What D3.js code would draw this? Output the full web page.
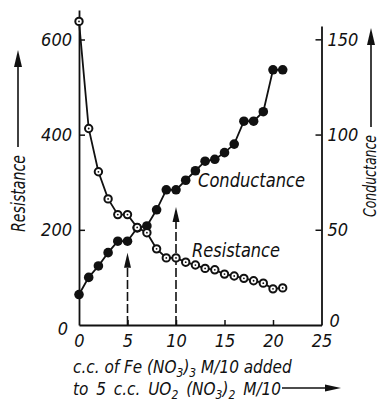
<!DOCTYPE html>
<html>
<head>
<meta charset="utf-8">
<script src="https://cdn.jsdelivr.net/npm/d3@7"></script>
<style>
  body { margin: 0; background: #fff; }
  text { font-family: "DejaVu Sans Condensed", "DejaVu Sans", sans-serif; font-style: italic; fill: #111; }
</style>
</head>
<body>
<div id="chart"></div>
<script>
let svgWidth = 380;
let svgHeight = 401;

// c.c. of Fe(NO3)3 added
let ccAdded = [0, 1, 2, 3, 4, 5, 6, 7, 8, 9, 10, 11, 12, 13, 14, 15, 16, 17, 18, 19, 20, 21];
let resistance = [638, 413, 322, 265, 232, 232, 205, 194, 160, 141, 141, 132, 126, 119, 116, 107, 103, 98, 93, 88, 76, 78];
let conductance = [16, 25, 31, 38, 44, 44, 51, 52, 60.5, 71, 71, 76, 81, 86, 87, 90.5, 95, 107, 107, 112, 134, 134];

let xTicks = [0, 5, 10, 15, 20, 25];
let resTicks = [0, 200, 400, 600];
let condTicks = [0, 50, 100, 150];

// equivalence points marked with dashed arrows (tip height in conductance units)
let arrowX = [5, 10];
let arrowTip = [38, 62];

let ink = "#111";

let svg = d3.select("#chart")
    .append("svg")
    .attr("width", svgWidth)
    .attr("height", svgHeight);

let x = d3.scaleLinear().domain([0, 25]).range([79, 321.5]);
let yRes = d3.scaleLinear().domain([0, 662]).range([325, 10]);
let yCond = d3.scaleLinear().domain([0, 157]).range([325, 26]);

// axes ---------------------------------------------------------------
let xAxis = svg.append("g")
    .attr("transform", `translate(0, ${yRes(0)})`)
    .call(d3.axisBottom(x).tickValues(xTicks).tickSize(-5).tickSizeOuter(0).tickPadding(9));

let leftAxis = svg.append("g")
    .attr("transform", `translate(${x(0)}, 0)`)
    .call(d3.axisLeft(yRes).tickValues(resTicks).tickSize(-6).tickSizeOuter(0).tickPadding(7));

let rightAxis = svg.append("g")
    .attr("transform", `translate(${x(25)}, 0)`)
    .call(d3.axisRight(yCond).tickValues(condTicks).tickSize(-6).tickSizeOuter(0).tickPadding(6));

[xAxis, leftAxis, rightAxis].forEach(a => {
    a.selectAll("path.domain").attr("stroke", ink).attr("stroke-width", 1.8);
    a.selectAll(".tick line").attr("stroke", ink).attr("stroke-width", 1.5);
    a.selectAll(".tick text")
        .attr("fill", ink)
        .style("font-family", '"DejaVu Sans Condensed", sans-serif')
        .style("font-style", "italic")
        .style("font-size", "18px");
});
// hide the tick marks sitting on the other axes
xAxis.selectAll(".tick").filter(d => d === 0 || d === 25).select("line").remove();
leftAxis.selectAll(".tick").filter(d => d === 0).select("line").remove();
rightAxis.selectAll(".tick").filter(d => d === 0).select("line").remove();
// the zero labels sit off the corners
leftAxis.selectAll(".tick").filter(d => d === 0).select("text").attr("x", -11).attr("dy", "0.5em");
rightAxis.selectAll(".tick").filter(d => d === 0).select("text").attr("x", 8).attr("dy", "0.1em");

// dashed arrows --------------------------------------------------------
arrowX.forEach((v, i) => {
    let tip = yCond(arrowTip[i]);
    svg.append("line")
        .attr("x1", x(v)).attr("x2", x(v))
        .attr("y1", yRes(0)).attr("y2", tip + 12)
        .attr("stroke", ink).attr("stroke-width", 1.6)
        .attr("stroke-dasharray", "9,3");
    svg.append("path")
        .attr("d", `M${x(v)},${tip} L${x(v) - 3.5},${tip + 15} L${x(v) + 3.5},${tip + 15} Z`)
        .attr("fill", ink);
});

// lines ------------------------------------------------------------------
let resLine = d3.line().x((d, i) => x(ccAdded[i])).y(d => yRes(d));
let condLine = d3.line().x((d, i) => x(ccAdded[i])).y(d => yCond(d));

svg.append("path").datum(conductance)
    .attr("d", condLine).attr("fill", "none").attr("stroke", ink).attr("stroke-width", 1.8);
svg.append("path").datum(resistance)
    .attr("d", resLine).attr("fill", "none").attr("stroke", ink).attr("stroke-width", 1.8);

svg.selectAll("circle.cond")
    .data(conductance)
    .enter()
    .append("circle")
    .attr("class", "cond")
    .attr("cx", (d, i) => x(ccAdded[i]))
    .attr("cy", d => yCond(d))
    .attr("r", 4.8)
    .attr("fill", ink);

let resPts = svg.selectAll("g.res")
    .data(resistance)
    .enter()
    .append("g")
    .attr("class", "res")
    .attr("transform", (d, i) => `translate(${x(ccAdded[i])}, ${yRes(d)})`);
resPts.append("circle").attr("r", 3.7).attr("fill", "#fff").attr("stroke", ink).attr("stroke-width", 2);
resPts.append("circle").attr("r", 0.9).attr("fill", ink);

// labels -----------------------------------------------------------------
svg.append("text")
    .attr("x", 198).attr("y", 187)
    .attr("textLength", 107).attr("lengthAdjust", "spacingAndGlyphs")
    .style("font-size", "20px")
    .text("Conductance");
svg.append("text")
    .attr("x", 192).attr("y", 257)
    .attr("textLength", 88).attr("lengthAdjust", "spacingAndGlyphs")
    .style("font-size", "19px")
    .text("Resistance");

// axis titles with arrows
svg.append("text")
    .attr("transform", "translate(25, 232) rotate(-90)")
    .attr("textLength", 77).attr("lengthAdjust", "spacingAndGlyphs")
    .style("font-size", "19px")
    .text("Resistance");
svg.append("line").attr("x1", 18).attr("x2", 18).attr("y1", 147).attr("y2", 62)
    .attr("stroke", ink).attr("stroke-width", 1.6);
svg.append("path").attr("d", "M18,50 L14,67 L22,67 Z").attr("fill", ink);

svg.append("text")
    .attr("transform", "translate(376, 217) rotate(-90)")
    .attr("textLength", 82).attr("lengthAdjust", "spacingAndGlyphs")
    .style("font-size", "18px")
    .text("Conductance");
svg.append("line").attr("x1", 371).attr("x2", 371).attr("y1", 127).attr("y2", 40)
    .attr("stroke", ink).attr("stroke-width", 1.6);
svg.append("path").attr("d", "M371,28 L367,45 L375,45 Z").attr("fill", ink);

// x title, two lines with subscripts
let t1 = svg.append("text").attr("x", 73).attr("y", 373)
    .style("font-size", "17px");
t1.append("tspan").text("c.c. of Fe (NO");
t1.append("tspan").attr("dy", 4).style("font-size", "12px").text("3");
t1.append("tspan").attr("dy", -4).text(")");
t1.append("tspan").attr("dy", 4).style("font-size", "12px").text("3");
t1.append("tspan").attr("dy", -4).text(" M/10 added");

let t2 = svg.append("text").attr("x", 73).attr("y", 395)
    .style("font-size", "17px")
    .style("word-spacing", "3px");
t2.append("tspan").text("to 5 c.c. UO");
t2.append("tspan").attr("dy", 4).style("font-size", "12px").text("2");
t2.append("tspan").attr("dy", -4).text(" (NO");
t2.append("tspan").attr("dy", 4).style("font-size", "12px").text("3");
t2.append("tspan").attr("dy", -4).text(")");
t2.append("tspan").attr("dy", 4).style("font-size", "12px").text("2");
t2.append("tspan").attr("dy", -4).text(" M/10");

svg.append("line").attr("x1", 282).attr("x2", 328).attr("y1", 388).attr("y2", 388)
    .attr("stroke", ink).attr("stroke-width", 1.6);
svg.append("path").attr("d", "M341,388 L325,384.5 L325,391.5 Z").attr("fill", ink);
</script>
</body>
</html>
